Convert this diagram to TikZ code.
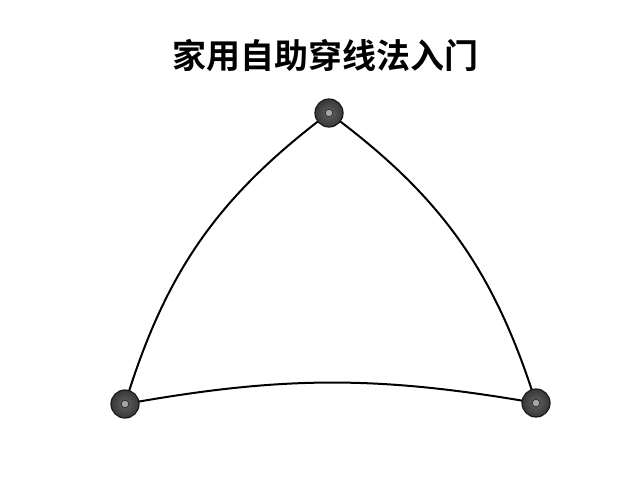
\documentclass[tikz,border=0pt]{standalone}
\usepackage{fontspec}
\newfontfamily\cjk{Noto Sans CJK SC}[BoldFont={Noto Sans CJK SC Bold}]
\usetikzlibrary{shadings}
\begin{document}
\begin{tikzpicture}[x=1pt,y=-1pt,
  pin/.style={circle,draw=black!90,line width=1.2pt,minimum size=28pt,inner sep=0pt,
    inner color=black!62, outer color=black!78},
  edge/.style={line width=2pt,black},
  hole/.style={circle,fill=black!35,draw=black!85,line width=0.6pt,minimum size=7.5pt,inner sep=0pt}]
\useasboundingbox[fill=white] (0,0) rectangle (640,480);
\node[font=\cjk\bfseries\fontsize{34}{38}\selectfont] (title) at (325,55) {家用自助穿线法入门};
\coordinate (ca) at (329,113);
\coordinate (cb) at (125,404);
\coordinate (cc) at (536,403);
\draw[edge] (cb) to[bend left=18] (ca);
\draw[edge] (ca) to[bend left=18] (cc);
\draw[edge] (cb) to[bend left=10] (cc);
\node[pin] (a) at (ca) {};
\node[pin] (b) at (cb) {};
\node[pin] (c) at (cc) {};
\node[hole] (ha) at (ca) {};
\node[hole] (hb) at (cb) {};
\node[hole] (hc) at (cc) {};
\end{tikzpicture}
\end{document}
